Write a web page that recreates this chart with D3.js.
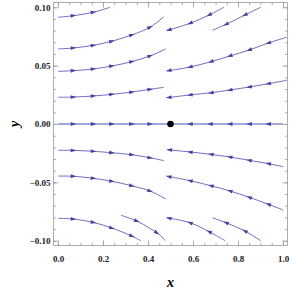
<!DOCTYPE html>
<html><head><meta charset="utf-8">
<script src="https://cdn.jsdelivr.net/npm/d3@7"></script>
<style>body{margin:0;background:#fff}svg{display:block}</style>
</head><body><svg id="c" width="291" height="291"></svg>
<script>
// ---- data ----
const xTicks = [0.0, 0.2, 0.4, 0.6, 0.8, 1.0];
const yTicks = [-0.10, -0.05, 0.00, 0.05, 0.10];
const xMinor = d3.range(0, 1.0001, 0.05);
const yMinor = d3.range(-0.10, 0.10001, 0.01);
const fixedPoint = [0.5, 0.0];

// streamlines, points ordered along flow direction
const zeroLeft = [[0.0, 0], [0.5, 0]];
const zeroRight = [[1.0, 0], [0.5, 0]];
const upperLeft = [
  [[0.0,0.0914],[0.068,0.0928],[0.157,0.0957],[0.231,0.1]],
  [[0.0,0.0643],[0.068,0.0651],[0.157,0.0674],[0.239,0.0709],[0.328,0.0763],[0.409,0.0829],[0.471,0.092]],
  [[0.0,0.0451],[0.068,0.0457],[0.157,0.0471],[0.239,0.0497],[0.328,0.0534],[0.409,0.0583],[0.479,0.0643]],
  [[0.0,0.0229],[0.068,0.0231],[0.157,0.024],[0.239,0.0254],[0.328,0.0274],[0.409,0.0297],[0.471,0.0314]]
];
const upperRight = [
  [[0.738,0.1],[0.672,0.0934],[0.587,0.0863],[0.483,0.08]],
  [[0.901,0.1],[0.831,0.0934],[0.747,0.0854],[0.686,0.0803]],
  [[1.016,0.0743],[0.935,0.0694],[0.85,0.0634],[0.764,0.0583],[0.68,0.0534],[0.587,0.0488],[0.483,0.0454]],
  [[1.016,0.0374],[0.935,0.0345],[0.85,0.0317],[0.764,0.0291],[0.68,0.0268],[0.587,0.0249],[0.483,0.0225]]
];
const lowerLeft = [
  [[0.0,-0.0226],[0.068,-0.0226],[0.157,-0.0234],[0.239,-0.0246],[0.328,-0.0263],[0.409,-0.0289],[0.471,-0.0314]],
  [[0.0,-0.0446],[0.068,-0.0448],[0.157,-0.0465],[0.239,-0.0491],[0.328,-0.0529],[0.409,-0.0574],[0.479,-0.0643]],
  [[0.0,-0.0808],[0.068,-0.0814],[0.157,-0.0843],[0.239,-0.0891],[0.328,-0.096],[0.368,-0.1]],
  [[0.28,-0.0782],[0.35,-0.0831],[0.409,-0.0894],[0.453,-0.0951],[0.476,-0.1]]
];
const lowerRight = [
  [[1.001,-0.0366],[0.935,-0.034],[0.85,-0.0311],[0.764,-0.0283],[0.68,-0.026],[0.587,-0.024],[0.486,-0.022]],
  [[1.001,-0.0737],[0.935,-0.0688],[0.85,-0.0628],[0.764,-0.0574],[0.68,-0.0529],[0.587,-0.0486],[0.483,-0.0446]],
  [[0.743,-0.1],[0.672,-0.0923],[0.587,-0.0846],[0.483,-0.0803]],
  [[0.901,-0.1],[0.831,-0.0917],[0.747,-0.0846],[0.686,-0.0803]]
];
// arrowhead x positions for each streamline
const arrowsZeroLeft = [0.068, 0.157, 0.239, 0.328, 0.409];
const arrowsZeroRight = [0.935, 0.85, 0.764, 0.676, 0.587];
const arrowsUpperLeft = [[0.068,0.157],[0.068,0.157,0.239,0.328,0.409],[0.068,0.157,0.239,0.328,0.409],[0.068,0.157,0.239,0.328,0.409]];
const arrowsUpperRight = [[0.672,0.587,0.493],[0.831,0.747],[0.935,0.85,0.764,0.68,0.587,0.493],[0.935,0.85,0.764,0.68,0.587,0.493]];
const arrowsLowerLeft = [[0.068,0.157,0.239,0.328,0.409],[0.068,0.157,0.239,0.328,0.409],[0.068,0.157,0.239,0.328],[0.35,0.439]];
const arrowsLowerRight = [[0.935,0.85,0.764,0.68,0.587,0.496],[0.935,0.85,0.764,0.68,0.587,0.493],[0.672,0.587,0.493],[0.831,0.747]];

// ---- drawing ----
const svg = d3.select("#c");
const L = 53.5, R = 287.5, T = 2.6, B = 245.4;
const x = d3.scaleLinear().domain([-0.02, 1.02]).range([L, R]);
const y = d3.scaleLinear().domain([-0.104, 0.104]).range([B, T]);

svg.append("clipPath").attr("id","clip").append("rect")
  .attr("x", L).attr("y", T).attr("width", R-L).attr("height", B-T);

const frameCol = "#9a9a9a";
function axis(gen, tr, vals, size, fmt) {
  const g = svg.append("g").attr("transform", tr)
    .call(gen.tickValues(vals).tickSize(size).tickSizeOuter(0).tickFormat(fmt));
  g.select(".domain").remove();
  g.selectAll("line").attr("stroke", frameCol).attr("stroke-width", 0.8);
  g.selectAll("text").attr("font-family", "Liberation Serif, serif")
    .attr("font-weight", "bold").attr("font-size", 9).attr("fill", "#222");
  return g;
}
const none = () => "";
axis(d3.axisBottom(x), `translate(0,${B})`, xMinor, -2.5, none);
axis(d3.axisTop(x), `translate(0,${T})`, xMinor, -2.5, none);
axis(d3.axisLeft(y), `translate(${L},0)`, yMinor, -2.5, none);
axis(d3.axisRight(y), `translate(${R},0)`, yMinor, -2.5, none);
const gb = axis(d3.axisBottom(x), `translate(0,${B})`, xTicks, -5, d3.format(".1f"));
gb.selectAll("text").attr("dy", "1.55em");
axis(d3.axisTop(x), `translate(0,${T})`, xTicks, -5, none);
const gl = axis(d3.axisLeft(y), `translate(${L},0)`, yTicks, -5, d3.format(".2f"));
gl.selectAll("text").attr("x", -3);
axis(d3.axisRight(y), `translate(${R},0)`, yTicks, -5, none);

svg.append("rect").attr("x", L).attr("y", T).attr("width", R-L).attr("height", B-T)
  .attr("fill", "none").attr("stroke", frameCol).attr("stroke-width", 0.8);

const plot = svg.append("g").attr("clip-path", "url(#clip)");
const line = d3.line().x(d => x(d[0])).y(d => y(d[1])).curve(d3.curveCatmullRom);
const lineCol = "#5f5fb8", arrowCol = "#4343a3";

function arrowAt(pts, ax) {
  for (let i = 0; i < pts.length - 1; i++) {
    const a = pts[i], b = pts[i+1];
    const lo = Math.min(a[0], b[0]), hi = Math.max(a[0], b[0]);
    if (ax >= lo && ax <= hi) {
      const t = (ax - a[0]) / (b[0] - a[0]);
      const py = a[1] + t * (b[1] - a[1]);
      const ang = Math.atan2(y(b[1]) - y(a[1]), x(b[0]) - x(a[0])) * 180 / Math.PI;
      plot.append("path").attr("d", "M3,0L-2.6,-1.9L-2.6,1.9Z")
        .attr("fill", arrowCol)
        .attr("transform", `translate(${x(ax)},${y(py)}) rotate(${ang})`);
      return;
    }
  }
}

// zero line
[[zeroLeft, arrowsZeroLeft], [zeroRight, arrowsZeroRight]].forEach(([p, ar]) => {
  plot.append("path").attr("d", line(p)).attr("fill", "none")
    .attr("stroke", "#a4a8d6").attr("stroke-width", 2);
  ar.forEach(a => arrowAt(p, a));
});

[[upperLeft, arrowsUpperLeft], [upperRight, arrowsUpperRight],
 [lowerLeft, arrowsLowerLeft], [lowerRight, arrowsLowerRight]].forEach(([set, ars]) => {
  set.forEach((p, i) => {
    plot.append("path").attr("d", line(p)).attr("fill", "none")
      .attr("stroke", lineCol).attr("stroke-width", 0.9);
    ars[i].forEach(a => arrowAt(p, a));
  });
});

svg.append("circle").attr("cx", x(fixedPoint[0])).attr("cy", y(fixedPoint[1]))
  .attr("r", 3.3).attr("fill", "#000");

svg.append("text").attr("x", (L+R)/2).attr("y", 287)
  .attr("text-anchor", "middle").attr("font-family", "Liberation Serif, serif")
  .attr("font-weight", "bold").attr("font-style", "italic").attr("font-size", 14)
  .text("x");
svg.append("text").attr("transform", `translate(19,${(T+B)/2}) rotate(-90)`)
  .attr("text-anchor", "middle").attr("font-family", "Liberation Serif, serif")
  .attr("font-weight", "bold").attr("font-style", "italic").attr("font-size", 14)
  .text("y");
</script></body></html>
